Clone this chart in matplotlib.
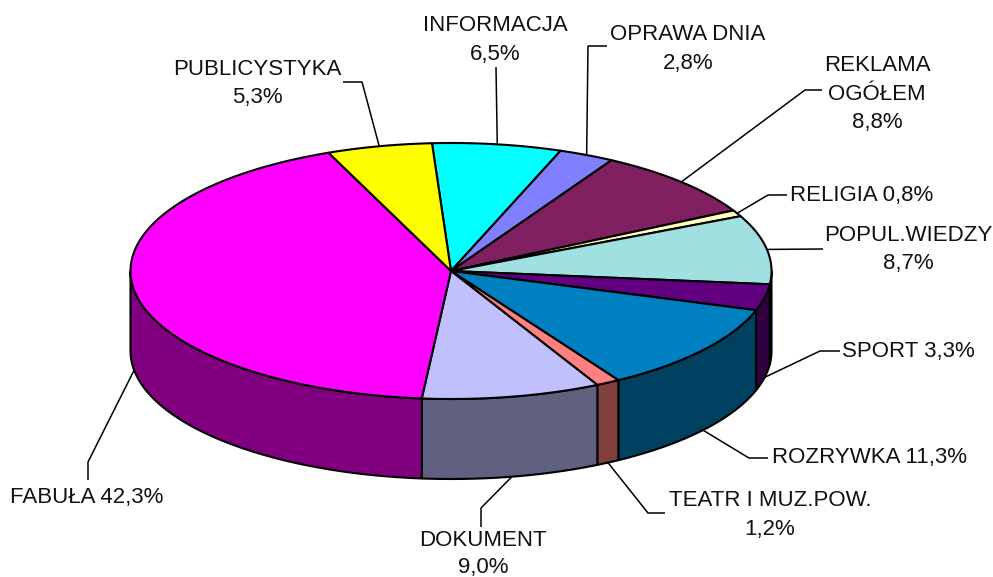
import numpy as np
import matplotlib
matplotlib.use("Agg")
import matplotlib.pyplot as plt
from matplotlib.patches import Polygon

plt.rcParams['font.family'] = ['Liberation Sans', 'DejaVu Sans']

# values in drawing order, clockwise
values = [6.5, 2.8, 8.8, 0.8, 8.7, 3.3, 11.3, 1.2, 9.0, 42.3, 5.3]
labels = ["INFORMACJA\n{}", "OPRAWA DNIA\n{}", "REKLAMA\nOGÓŁEM\n{}", "RELIGIA {}", "POPUL.WIEDZY\n{}",
          "SPORT {}", "ROZRYWKA {}", "TEATR I MUZ.POW.\n{}", "DOKUMENT\n{}", "FABUŁA {}", "PUBLICYSTYKA\n{}"]
top_colors = ['#00FFFF', '#8080FF', '#802060', '#FFFFC0', '#A0E0E0', '#600080',
              '#0080C0', '#FF8080', '#C0C0FF', '#FF00FF', '#FFFF00']
side_colors = ['#008080', '#404080', '#401030', '#808060', '#507070', '#300040',
               '#004060', '#804040', '#606080', '#800080', '#808000']

# where the labels sit, in pixels
label_pos = [(495, 40), (688, 49), (877, 94), (862, 195), (908, 249.5),
             (908, 351), (869, 458), (770, 515), (483, 554), (87, 497), (257, 83.5)]
leader_bends = [[(496, 67)], [(588, 46), (607, 46)], [(805, 90), (822, 90)], [(768, 195), (787, 195)],
                [(823, 249)], [(820, 351), (840, 351)], [(749, 458), (768, 458)], [(648, 513), (665, 513)],
                [(481, 508), (481, 527)], [(88, 462), (88, 480)], [(362, 82), (343, 82)]]

cx, cy = 451, 271
rx, ry = 320.5, 128
depth = 80
start = -3.4


def rim(t, drop=0):
    t = np.radians(t)
    return np.column_stack([cx + rx * np.sin(t), cy - ry * np.cos(t) + drop])


fig = plt.figure(figsize=(9.93, 5.77), dpi=100)
ax = fig.add_axes([0, 0, 1, 1])
ax.set_xlim(0, 993)
ax.set_ylim(577, 0)
ax.axis('off')

edges = start + np.cumsum([0] + values) / sum(values) * 360

# side wall first, only the part facing us
for i in range(len(values)):
    a = max(edges[i], 90)
    b = min(edges[i + 1], 270)
    if b > a:
        t = np.linspace(a, b, 80)
        pts = np.vstack([rim(t), rim(t[::-1], depth)])
        ax.add_patch(Polygon(pts, closed=True, fc=side_colors[i], ec='black', lw=1.5, joinstyle='round'))

for i in range(len(values)):
    t = np.linspace(edges[i], edges[i + 1], 100)
    pts = np.vstack([[(cx, cy)], rim(t)])
    ax.add_patch(Polygon(pts, closed=True, fc=top_colors[i], ec='black', lw=1.5, joinstyle='round'))

for i in range(len(values)):
    mid = (edges[i] + edges[i + 1]) / 2
    front = 90 < mid < 270
    anchor = rim(np.array([mid]), depth if front else 0)
    line = np.vstack([anchor, leader_bends[i]])
    ax.plot(line[:, 0], line[:, 1], color='black', lw=1.1, solid_capstyle='butt')
    txt = labels[i].format(f"{values[i]:.1f}".replace('.', ',') + "%")
    # DOKUMENT sits close to the bottom edge, a bit tighter there
    ax.text(label_pos[i][0], label_pos[i][1], txt, ha='center', va='center', fontsize=16,
            color='#111111', linespacing=1.35 if i == 8 else 1.45)

plt.savefig('out.png', dpi=100)
